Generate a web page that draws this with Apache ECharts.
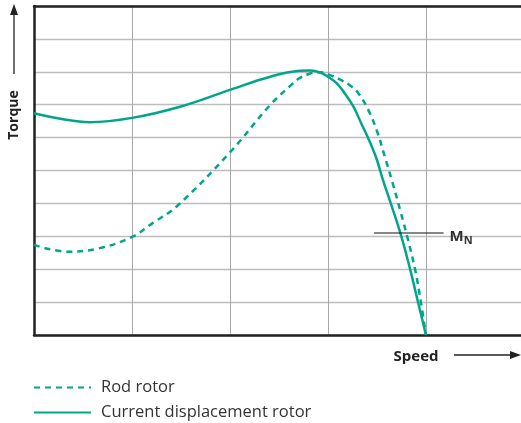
<!DOCTYPE html>
<html><head><meta charset="utf-8">
<script src="https://cdn.jsdelivr.net/npm/echarts@6/dist/echarts.min.js"></script>
<style>html,body{margin:0;padding:0;background:#fff}#c{width:521px;height:423px}</style>
</head><body><div id="c"></div>
<script>
const seriesNames = ['Rod rotor', 'Current displacement rotor'];
const rodRotor = [[0,2.74],[0.35,2.53],[0.67,2.64],[1.0,2.98],[1.21,3.4],[1.46,3.92],[2.0,5.55],[2.41,6.99],[2.64,7.64],[2.71,7.81],[2.82,7.95],[2.92,7.99],[3.02,7.9],[3.12,7.77],[3.22,7.6],[3.31,7.35],[3.41,6.85],[3.5,6.2],[3.58,5.42],[3.66,4.62],[3.74,3.76],[3.82,2.86],[3.89,1.98],[3.95,0.97],[4.0,0]];
const currentDisp = [[0,6.74],[0.27,6.57],[0.57,6.47],[1.0,6.6],[1.49,6.94],[2.0,7.45],[2.41,7.85],[2.71,8.03],[2.82,8.04],[2.92,7.98],[3.0,7.85],[3.09,7.65],[3.17,7.35],[3.26,6.94],[3.34,6.43],[3.43,5.85],[3.5,5.32],[3.56,4.72],[3.63,4.1],[3.74,3.09],[3.84,1.98],[3.92,0.99],[4.0,0]];
const ratedLine = [[3.47,3.1],[4.18,3.1]];
const ratedLabel = 'M';
const ratedSub = 'N';
const axisTitles = {x:'Speed', y:'Torque'};
const teal = '#00a58b';
const chart = echarts.init(document.getElementById('c'), null, {renderer:'canvas'});
chart.setOption({
  animation:false,
  grid:{left:34, top:6, right:0, bottom:88},
  xAxis:[{type:'value', min:0, max:4.97, interval:1, position:'bottom',
    axisLine:{show:true, lineStyle:{color:'#222', width:2.5}},
    axisTick:{show:false}, axisLabel:{show:false},
    splitLine:{show:true, lineStyle:{color:'#a8a8a8', width:1}}},
   {type:'value', min:0, max:4.97, position:'top',
    axisLine:{show:true, lineStyle:{color:'#222', width:2.5}},
    axisTick:{show:false}, axisLabel:{show:false}, splitLine:{show:false}}],
  yAxis:{type:'value', min:0, max:10, interval:1,
    axisLine:{show:true, lineStyle:{color:'#222', width:2.5}},
    axisTick:{show:false}, axisLabel:{show:false},
    splitLine:{show:true, lineStyle:{color:'#bdbdbd', width:1.3}}},
  legend:{data:seriesNames, orient:'vertical', left:33, top:377, height:60, padding:0, itemWidth:57, itemHeight:10, itemGap:4,
    itemStyle:{opacity:0},
    textStyle:{fontFamily:'Open Sans', fontSize:16.5, lineHeight:21, color:'#333', padding:[0,0,0,5]}},
  series:[
    {name:seriesNames[0], type:'line', data:rodRotor, smooth:0.4, symbol:'none',
     lineStyle:{color:teal, width:2.5, type:[6,5]}, itemStyle:{color:teal}},
    {name:seriesNames[1], type:'line', data:currentDisp, smooth:0.4, symbol:'none',
     lineStyle:{color:teal, width:2.5}, itemStyle:{color:teal}},
    {name:'rated', type:'line', data:ratedLine, symbol:'none', silent:true,
     lineStyle:{color:'#111', width:1.2},
     endLabel:{show:true, distance:6, offset:[0,4], formatter:'{m|'+ratedLabel+'}{n|'+ratedSub+'}',
       rich:{m:{fontFamily:'Open Sans', fontWeight:'bold', fontSize:15, color:'#333'},
             n:{fontFamily:'Open Sans', fontWeight:'bold', fontSize:11, color:'#333', padding:[8,0,0,0]}}}}
  ],
  graphic:[
    {type:'text', x:14, y:115, rotation:Math.PI/2, style:{text:axisTitles.y, fontFamily:'Open Sans', fontWeight:'bold', fontSize:14, fill:'#222', align:'center', verticalAlign:'middle'}},
    {type:'line', shape:{x1:14, y1:74, x2:14, y2:14}, style:{stroke:'#222', lineWidth:1.3}},
    {type:'polygon', shape:{points:[[14,4],[10,15],[18,15]]}, style:{fill:'#222'}},
    {type:'text', x:416, y:357, style:{text:axisTitles.x, fontFamily:'Open Sans', fontWeight:'bold', fontSize:15, fill:'#222', align:'center', verticalAlign:'middle'}},
    {type:'line', shape:{x1:454, y1:355, x2:512, y2:355}, style:{stroke:'#222', lineWidth:1.3}},
    {type:'polygon', shape:{points:[[521,355],[510,351],[510,359]]}, style:{fill:'#222'}}
  ]
});
</script></body></html>
